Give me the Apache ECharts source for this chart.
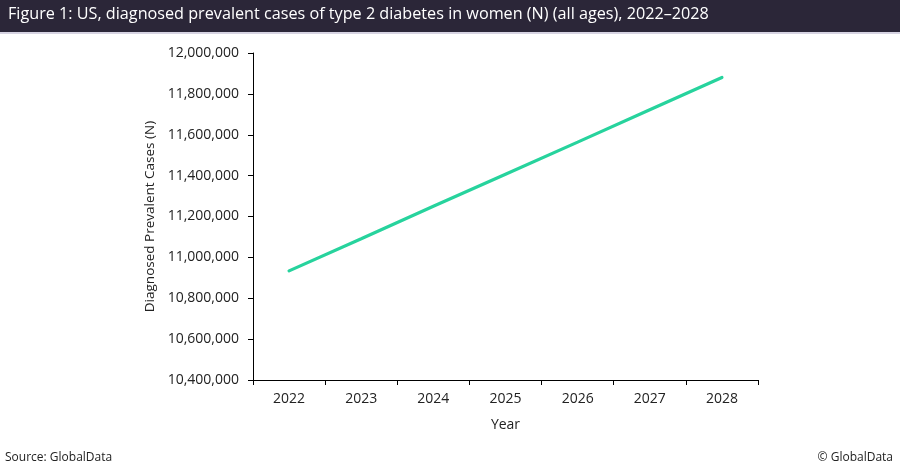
<!DOCTYPE html>
<html><head><meta charset="utf-8">
<script src="https://cdn.jsdelivr.net/npm/echarts@6/dist/echarts.min.js"></script>
<style>html,body{margin:0;padding:0;background:#fff}#c{width:900px;height:474px}</style>
</head><body><div id="c"></div>
<script>
const years = ['2022','2023','2024','2025','2026','2027','2028'];
const cases = [10934000, 11091000, 11250000, 11407000, 11564000, 11722000, 11880000];
const titleText = 'Figure 1: US, diagnosed prevalent cases of type 2 diabetes in women (N) (all ages), 2022\u20132028';
const sourceText = 'Source: GlobalData';
const copyText = '\u00a9 GlobalData';
const font = '"Open Sans", "Noto Sans", sans-serif';
const chart = echarts.init(document.getElementById('c'), null, {renderer:'canvas'});
chart.setOption({
  animation:false,
  graphic:[
    {type:'rect', shape:{x:0,y:0,width:900,height:32}, style:{fill:'#2b2638'}},
    {type:'rect', shape:{x:0,y:32,width:900,height:2}, style:{fill:'#d6d3e2'}},
    {type:'text', left:8, top:6, style:{text:titleText, fill:'#ffffff', font:'16.2px '+font}},
    {type:'text', left:5, top:452, style:{text:sourceText, fill:'#222', font:'12px '+font}},
    {type:'text', right:7, top:452, style:{text:copyText, fill:'#222', font:'12px '+font}}
  ],
  grid:{left:253, right:142, top:53, bottom:94, containLabel:false},
  xAxis:{type:'category', data:years, boundaryGap:true,
    name:'Year', nameLocation:'middle', nameGap:38,
    nameTextStyle:{fontFamily:font, fontSize:14, color:'#222'},
    axisLine:{lineStyle:{color:'#000', width:1}},
    axisTick:{show:true, length:5, lineStyle:{color:'#000'}},
    axisLabel:{fontFamily:font, fontSize:14, color:'#222', margin:12}},
  yAxis:{type:'value', min:10400000, max:12000000, interval:200000,
    name:'Diagnosed Prevalent Cases (N)', nameLocation:'middle', nameGap:95, nameRotate:90,
    nameTextStyle:{fontFamily:font, fontSize:13.5, color:'#222'},
    axisLine:{show:true, lineStyle:{color:'#000', width:1}},
    axisTick:{show:true, length:5, lineStyle:{color:'#000'}},
    splitLine:{show:false},
    axisLabel:{fontFamily:font, fontSize:14, color:'#222', margin:14,
      formatter:v=>v.toLocaleString('en-US')}},
  series:[{type:'line', data:cases, showSymbol:false, symbol:'none',
    lineStyle:{color:'#27d39d', width:3.2, cap:'round'}}]
});
</script></body></html>
